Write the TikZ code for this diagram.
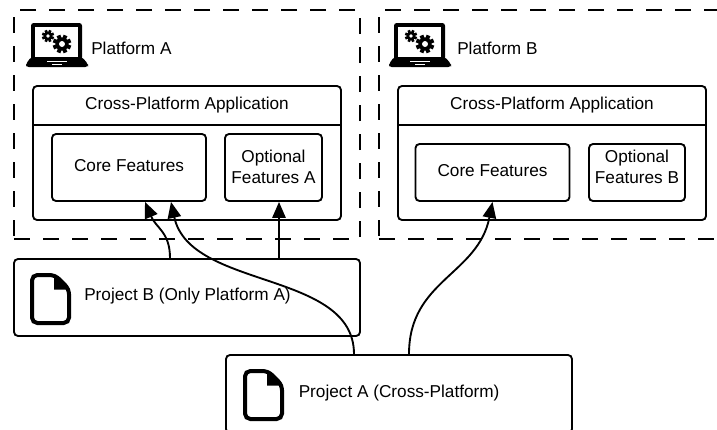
\documentclass[tikz,border=0pt]{standalone}
\usepackage{fontspec}
\setmainfont{Liberation Sans}
\usetikzlibrary{arrows.meta,calc}
\tikzset{
    txt/.style={font=\fontsize{12.9}{15.75}\selectfont, align=center, inner sep=0pt},
    lbl/.style={txt, anchor=west},
    box/.style={draw, rounded corners=3pt, line width=1.4pt, inner sep=0pt, fill=white},
    zone/.style={draw, line width=1.4pt, dash pattern=on 12pt off 9.75pt, inner sep=0pt},
    link/.style={line width=1.4pt, -{Triangle[length=12pt,width=10pt]}},
    laptop/.pic={
        \fill[rounded corners=2pt] (0,0) rectangle (51,37);
        \fill[white] (4,4) rectangle (47,34);
        \fill[rounded corners=2pt] (0,34) -- (51,34) -- (57,41) -- (57,44) -- (-5,44) -- (-5,41) -- cycle;
        \fill[white] (16,38.2) rectangle (36,39.4);
        \fill[white] (21,41) rectangle (31,42);
        \foreach \cx/\cy/\r in {17/13/4.4, 31/21/6.6} {
            \fill (\cx,\cy) circle[radius=\r];
            \foreach \a in {0,45,...,315}
                \fill[shift={(\cx,\cy)}, rotate=\a+22.5] (-0.3*\r,0) rectangle (0.3*\r,1.4*\r);
            \fill[white] (\cx,\cy) circle[radius=0.45*\r];
        }
    },
    docicon/.pic={
        \draw[line width=3pt, rounded corners=4pt] (2,2) -- (25,2) -- (39,16) -- (39,50) -- (2,50) -- cycle;
        \fill[line join=round] (24,1) -- (40,16) -- (40,16.5) -- (24,16.5) -- cycle;
    }
}
\begin{document}
\begin{tikzpicture}[x=0.75pt, y=-0.75pt]
    \useasboundingbox (0,0) rectangle (717,429);

    % Platform A
    \node[zone, minimum width=259.5pt, minimum height=171.75pt] (zoneA) at (187,124.5) {};
    \pic at (31,23) {laptop};
    \node[lbl] (nameA) at (91,48) {Platform A};
    \node[box, minimum width=231pt, minimum height=100.5pt] (appA) at (187,153) {};
    \node[txt, minimum width=231pt, minimum height=29.25pt] (titleA) at (187,105.5) {\raisebox{1.5pt}{Cross-Platform Application}};
    \draw[line width=1.2pt] (titleA.south west) -- (titleA.south east);
    \node[box, minimum width=115.5pt, minimum height=50.25pt] (coreA) at (129,167.5) {};
    \node[txt] (coreAtxt) at (129,166) {Core Features};
    \node[box, minimum width=72.75pt, minimum height=50.25pt] (optA) at (273.5,167.5) {};
    \node[txt] (optAtxt) at (273.5,166.5) {Optional\\Features A};

    % Platform B
    \node[zone, minimum width=259.5pt, minimum height=171.75pt] (zoneB) at (552,124.5) {};
    \pic at (394,23) {laptop};
    \node[lbl] (nameB) at (457,48) {Platform B};
    \node[box, minimum width=231pt, minimum height=100.5pt] (appB) at (552,153) {};
    \node[txt, minimum width=231pt, minimum height=29.25pt] (titleB) at (552,105.5) {\raisebox{1.5pt}{Cross-Platform Application}};
    \draw[line width=1.2pt] (titleB.south west) -- (titleB.south east);
    \node[box, minimum width=115.5pt, minimum height=42.75pt] (coreB) at (492.5,172.5) {};
    \node[txt] (coreBtxt) at (492.5,171) {Core Features};
    \node[box, minimum width=72pt, minimum height=42.75pt] (optB) at (637,172.5) {};
    \node[txt] (optBtxt) at (637,166.5) {Optional\\Features B};

    % Projects
    \node[box, minimum width=259.5pt, minimum height=57.75pt] (projB) at (187,297.5) {};
    \pic at (30,273) {docicon};
    \node[lbl] (projBtxt) at (84,296) {Project B (Only Platform A)};
    \node[box, minimum width=259.5pt, minimum height=58.5pt] (projA) at (399,394) {};
    \pic at (243,369) {docicon};
    \node[lbl] (projAtxt) at (298.5,393.5) {Project A (Cross-Platform)};

    % Arrows
    \draw[link] ($(projB.north)+(-17,0)$) .. controls (170,232) and (156,228) .. ($(coreA.south)+(16,0)$);
    \draw[link] ($(projB.north)+(92,0)$) -- ($(optA.south)+(5.5,0)$);
    \draw[link] ($(projA.north)+(-45,0)$) .. controls (354,270) and (190,290) .. ($(coreA.south)+(42,0)$);
    \draw[link] ($(projA.north)+(10,0)$) .. controls (409,280) and (478,275) .. (coreB.south);
\end{tikzpicture}
\end{document}
